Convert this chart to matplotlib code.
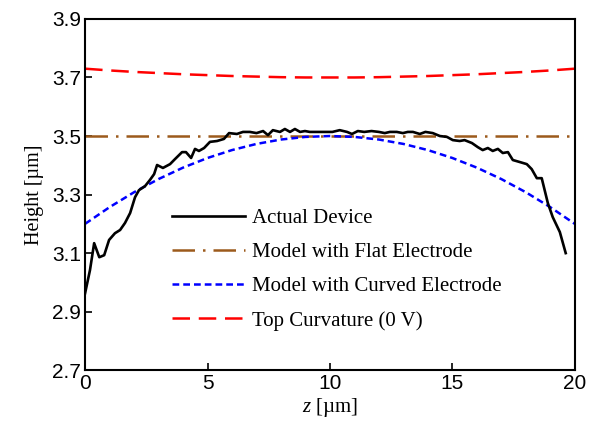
import matplotlib
matplotlib.use('Agg')
import matplotlib.pyplot as plt

# smooth model curves, sampled every 1 um
z_model = [0, 1, 2, 3, 4, 5, 6, 7, 8, 9, 10, 11, 12, 13, 14, 15, 16, 17, 18, 19, 20]
h_flat = [3.5] * 21
h_curved = [3.200, 3.257, 3.308, 3.353, 3.392, 3.425, 3.452, 3.473, 3.488, 3.497, 3.500,
            3.497, 3.488, 3.473, 3.452, 3.425, 3.392, 3.353, 3.308, 3.257, 3.200]
h_top = [3.730, 3.724, 3.719, 3.715, 3.711, 3.708, 3.705, 3.703, 3.701, 3.700, 3.700,
         3.700, 3.701, 3.703, 3.705, 3.708, 3.711, 3.715, 3.719, 3.724, 3.730]

# measured profile
z_dev = [0.0, 0.2, 0.37, 0.58, 0.78, 0.98, 1.22, 1.43, 1.63, 1.84, 2.04, 2.2, 2.45, 2.65,
         2.82, 2.94, 3.18, 3.47, 3.67, 3.96, 4.12, 4.33, 4.49, 4.65, 4.86, 5.1, 5.39, 5.67,
         5.88, 6.2, 6.45, 6.73, 7.0, 7.27, 7.47, 7.67, 7.96, 8.16, 8.37, 8.57, 8.78, 8.98,
         9.18, 9.47, 9.71, 10.1, 10.4, 10.7, 10.9, 11.14, 11.4, 11.7, 12.0, 12.24, 12.45,
         12.73, 12.98, 13.18, 13.39, 13.67, 13.9, 14.2, 14.49, 14.78, 15.02, 15.3, 15.5,
         15.8, 16.04, 16.24, 16.45, 16.65, 16.86, 17.06, 17.27, 17.47, 17.76, 18.04, 18.24,
         18.45, 18.65, 18.9, 19.1, 19.39, 19.63]
h_dev = [2.963, 3.042, 3.134, 3.086, 3.093, 3.145, 3.168, 3.179, 3.203, 3.237, 3.291, 3.315,
         3.329, 3.350, 3.370, 3.401, 3.391, 3.404, 3.421, 3.445, 3.445, 3.425, 3.456, 3.449,
         3.459, 3.480, 3.483, 3.490, 3.510, 3.507, 3.514, 3.514, 3.510, 3.517, 3.503, 3.520,
         3.514, 3.524, 3.514, 3.524, 3.514, 3.517, 3.514, 3.514, 3.514, 3.514, 3.520, 3.514,
         3.507, 3.517, 3.514, 3.517, 3.514, 3.510, 3.514, 3.514, 3.510, 3.514, 3.514, 3.507,
         3.514, 3.510, 3.500, 3.497, 3.486, 3.483, 3.486, 3.476, 3.462, 3.452, 3.459, 3.449,
         3.456, 3.442, 3.445, 3.418, 3.411, 3.404, 3.387, 3.356, 3.356, 3.271, 3.223, 3.172,
         3.100]

x_ticks = [0, 5, 10, 15, 20]
y_ticks = [2.7, 2.9, 3.1, 3.3, 3.5, 3.7, 3.9]

plt.rcParams['mathtext.fontset'] = 'custom'
plt.rcParams['mathtext.it'] = 'Liberation Serif:italic'
plt.rcParams['mathtext.rm'] = 'Liberation Serif'

fig = plt.figure(figsize=(5.95, 4.3), dpi=100)
ax = fig.add_axes([0.143, 0.139, 0.823, 0.817])

ax.plot(z_dev, h_dev, color='black', lw=1.9, label='Actual Device', zorder=5)
ax.plot(z_model, h_flat, color='#9c5a1c', lw=1.8, linestyle=(0, (9, 3.2, 1, 3.2)),
        label='Model with Flat Electrode')
ax.plot(z_model, h_curved, color='#0000ff', lw=1.8, linestyle=(0, (2.7, 1.6)),
        label='Model with Curved Electrode')
ax.plot(z_model, h_top, color='#ff0000', lw=1.8, linestyle=(0, (7, 3.5)),
        label='Top Curvature (0 V)')

ax.set_xlim(0, 20)
ax.set_ylim(2.7, 3.9)
ax.set_xticks(x_ticks)
ax.set_yticks(y_ticks)
ax.set_xticklabels([str(v) for v in x_ticks])
ax.set_yticklabels([f'{v:.1f}' for v in y_ticks])
ax.tick_params(direction='in', length=5, width=1.2, labelsize=15, pad=3,
               top=False, right=False)
for lab in ax.get_xticklabels() + ax.get_yticklabels():
    lab.set_fontfamily('Liberation Sans')
for sp in ax.spines.values():
    sp.set_linewidth(1.5)

ax.set_xlabel(r'$z$ [µm]', fontfamily='Liberation Serif', fontsize=15, labelpad=2)
ax.set_ylabel('Height [µm]', fontfamily='Liberation Serif', fontsize=14.5, labelpad=6)

ax.legend(loc='upper left', bbox_to_anchor=(0.178, 0.461), frameon=False,
          prop={'family': 'Liberation Serif', 'size': 15}, handlelength=3.5,
          handletextpad=0.35, labelspacing=0.7, borderpad=0, borderaxespad=0)

fig.savefig('out.png', dpi=100)
plt.close(fig)
